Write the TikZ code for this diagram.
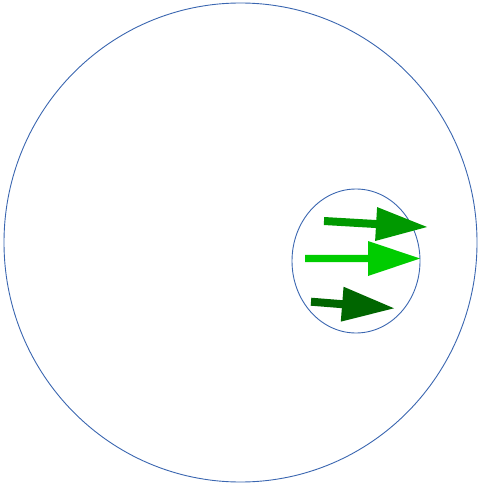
\documentclass[tikz,border=0pt]{standalone}
\usetikzlibrary{calc}
\definecolor{ringblue}{HTML}{3A66B0}
\definecolor{gmid}{HTML}{009900}
\definecolor{gbright}{HTML}{00CC00}
\definecolor{gdark}{HTML}{006600}
\tikzset{ring/.style={draw=ringblue,line width=0.9pt}}
\newcommand{\fatarrow}[6]{% color, tail, tip, head length, shaft half, head half
  \coordinate (A) at #2; \coordinate (T) at #3;
  \coordinate (H) at ($(T)!#4!(A)$);
  \fill[#1] ($(A)!#5!90:(T)$) -- ($(H)!#5!-90:(A)$) -- ($(H)!#6!-90:(A)$) -- (T)
     -- ($(H)!#6!90:(A)$) -- ($(H)!#5!90:(A)$) -- ($(A)!#5!-90:(T)$) -- cycle;
}
\begin{document}
\begin{tikzpicture}[x=1pt,y=-1pt]
\useasboundingbox (0,0) rectangle (478,486);
\draw[ring] (240.5,242.5) ellipse [x radius=236.5pt, y radius=239.5pt];
\draw[ring] (356,261) ellipse [x radius=64pt, y radius=72pt];
\fatarrow{gmid}{(324,221)}{(427,227)}{51pt}{4pt}{17pt}
\fatarrow{gbright}{(305,258.5)}{(420,258.5)}{52pt}{3.7pt}{17.5pt}
\fatarrow{gdark}{(311,301.7)}{(394,308.3)}{52pt}{4pt}{17.5pt}
\end{tikzpicture}
\end{document}
